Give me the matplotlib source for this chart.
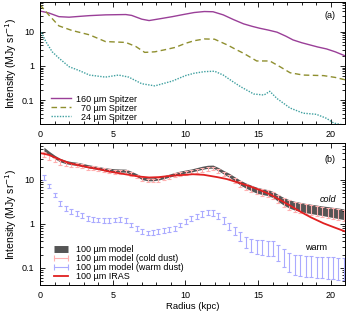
import numpy as np
import matplotlib
matplotlib.use("Agg")
import matplotlib.pyplot as plt
from matplotlib.lines import Line2D

plt.rcParams['font.family'] = ['Liberation Sans', 'DejaVu Sans']
plt.rcParams['font.size'] = 6.5

# panel (a): Spitzer profiles
r160 = [0, 0.6, 1.3, 2.0, 2.7, 3.4, 4.5, 5.9, 6.3, 7.0, 7.5, 8.3, 9.1, 9.8, 10.6, 11.3, 11.9,
        12.6, 13.3, 14.0, 14.6, 15.1, 15.7, 16.3, 16.9, 17.4, 18.0, 18.6, 19.1, 19.7, 20.3, 21.0]
i160 = [41, 36, 28, 27, 28.5, 30, 31.6, 32.3, 30.5, 23.6, 21.5, 24.5, 28, 32, 37, 39.6, 39,
        31.6, 23, 17.2, 14.5, 12.8, 11.3, 9.8, 7.5, 5.8, 4.8, 4.1, 3.6, 3.16, 2.6, 1.96]

r70 = [0, 0.3, 0.6, 1.3, 2.2, 3.4, 4.5, 5.9, 6.6, 7.2, 7.9, 8.6, 9.3, 10.0, 10.6, 11.3, 12.0,
       12.9, 13.5, 14.0, 14.9, 15.8, 16.5, 17.2, 18.1, 19.5, 20.3, 21.0]
i70 = [62, 45, 31.6, 15, 11, 8.2, 5.2, 4.9, 3.7, 2.5, 2.6, 3.0, 3.5, 4.6, 5.5, 6.2, 6.1,
       4.1, 3.0, 2.35, 1.4, 1.4, 0.95, 0.63, 0.54, 0.52, 0.46, 0.39]

r24 = [0, 0.4, 0.84, 1.3, 2.0, 2.7, 3.4, 4.5, 5.4, 6.1, 7.0, 7.9, 9.1, 10.0, 10.6, 11.3, 12.0,
       12.6, 13.2, 13.8, 14.7, 15.4, 15.8, 16.3, 17.2, 18.1, 19.0, 19.7, 20.2, 21.0]
i24 = [11.5, 5.2, 2.6, 1.7, 0.95, 0.73, 0.54, 0.47, 0.54, 0.47, 0.3, 0.26, 0.36, 0.52, 0.61,
       0.68, 0.7, 0.54, 0.36, 0.245, 0.15, 0.14, 0.18, 0.11, 0.058, 0.041, 0.038, 0.029, 0.021, 0.018]

# panel (b): 100 micron model and IRAS
r_bin = np.arange(0.27, 21.0, 0.375)
model = [50, 40, 33, 28, 25.5, 24, 23.2, 22, 20.5, 19.5, 18.5, 17.6, 16.9, 16.5, 16.3, 16.2,
         14.5, 12.8, 11, 10.3, 10.3, 10.8, 11.5, 12.5, 13.6, 14.6, 15.5, 16.3, 17.5, 18.8, 19.8, 20,
         17.5, 14.8, 12.7, 10.5, 8.7, 7.5, 6.6, 5.9, 5.5, 5.2, 4.7, 3.9, 3.3, 2.9, 2.65, 2.5,
         2.35, 2.25, 2.15, 2.05, 1.97, 1.88, 1.8, 1.72]
model_err = [5, 4, 3, 2.5, 2.2, 2, 1.9, 1.8, 1.7, 1.6, 1.5, 1.4, 1.4, 1.3, 1.3, 1.3,
             1.2, 1.0, 0.9, 0.8, 0.8, 0.9, 0.9, 1.0, 1.1, 1.2, 1.2, 1.3, 1.4, 1.5, 1.6, 1.6,
             1.5, 1.4, 1.3, 1.2, 1.1, 1.0, 0.95, 0.9, 0.85, 0.8, 0.75, 0.7, 0.65, 0.62, 0.6, 0.58,
             0.56, 0.54, 0.52, 0.5, 0.5, 0.49, 0.48, 0.47]
cold = [38.5, 32.7, 28.4, 25, 23.2, 22.1, 21.4, 20.5, 19.1, 18.2, 17.3, 16.4, 15.7, 15.3, 15.0, 15.0,
        13.5, 12.0, 10.3, 9.7, 9.7, 10.1, 10.8, 11.7, 12.8, 13.6, 14.4, 15.0, 16.0, 17.1, 18.0, 18.2,
        16.0, 13.6, 11.8, 9.8, 8.2, 7.1, 6.3, 5.6, 5.2, 4.9, 4.4, 3.66, 3.1, 2.75, 2.5, 2.37,
        2.22, 2.13, 2.03, 1.93, 1.85, 1.77, 1.69, 1.61]
cold_err = [5, 4.2, 3.4, 3.0, 2.6, 2.4, 2.2, 2.1, 2.0, 1.9, 1.8, 1.7, 1.6, 1.6, 1.5, 1.5,
            1.4, 1.2, 1.0, 1.0, 1.0, 1.0, 1.1, 1.2, 1.3, 1.4, 1.4, 1.5, 1.6, 1.7, 1.8, 1.8,
            1.7, 1.5, 1.4, 1.3, 1.2, 1.1, 1.0, 0.95, 0.9, 0.85, 0.8, 0.75, 0.7, 0.65, 0.62, 0.6,
            0.58, 0.56, 0.54, 0.52, 0.5, 0.49, 0.48, 0.47]
warm = [11.5, 7.3, 4.6, 2.95, 2.27, 1.9, 1.75, 1.54, 1.35, 1.28, 1.23, 1.19, 1.22, 1.23, 1.28, 1.2,
        0.95, 0.8, 0.68, 0.62, 0.64, 0.68, 0.71, 0.75, 0.8, 0.95, 1.12, 1.35, 1.5, 1.69, 1.8, 1.8,
        1.55, 1.2, 0.9, 0.7, 0.53, 0.4, 0.34, 0.32, 0.31, 0.3, 0.3, 0.24, 0.19, 0.15, 0.135, 0.13,
        0.125, 0.122, 0.12, 0.118, 0.116, 0.114, 0.112, 0.11]
warm_err = [1.4, 0.9, 0.55, 0.36, 0.27, 0.23, 0.21, 0.19, 0.16, 0.15, 0.15, 0.14, 0.15, 0.15, 0.15, 0.14,
            0.11, 0.1, 0.08, 0.075, 0.077, 0.08, 0.085, 0.09, 0.1, 0.11, 0.14, 0.17, 0.2, 0.23, 0.25, 0.26,
            0.24, 0.2, 0.17, 0.15, 0.13, 0.11, 0.11, 0.11, 0.11, 0.11, 0.11, 0.1, 0.085, 0.07, 0.065, 0.063,
            0.062, 0.061, 0.06, 0.06, 0.06, 0.059, 0.058, 0.057]

r_iras = [0, 0.6, 1.3, 2.0, 2.7, 3.4, 4.05, 4.7, 5.4, 6.1, 6.8, 7.5, 8.15, 9.06, 10.0, 10.5,
          11.25, 12.2, 12.85, 13.76, 14.45, 15.1, 15.8, 16.5, 17.2, 17.9, 18.6, 19.5, 20.2, 21.0]
i_iras = [40.5, 37, 29.5, 24, 21.2, 19, 17.5, 15.5, 14.2, 13, 11.9, 11.3, 11.5, 12.4, 13, 13.4,
          13, 11.5, 10.4, 8.4, 7.1, 5.9, 4.7, 3.5, 2.6, 1.9, 1.42, 1.03, 0.84, 0.67]

c160, c70, c24 = '#9a3f98', '#8f8f2f', '#3fa0a0'
c_model, c_cold, c_warm, c_iras = '#555555', '#ffb0b0', '#aaaaff', '#e02020'

fig = plt.figure(figsize=(3.46, 3.14), dpi=100)
ax1 = fig.add_axes([0.1156, 0.605, 0.881, 0.389])
ax2 = fig.add_axes([0.1156, 0.0924, 0.881, 0.4526])

ax1.plot(r160, i160, color=c160, lw=1.0, label='160 µm Spitzer')
ax1.plot(r70, i70, color=c70, lw=1.0, ls=(0, (4, 2.5)), label='\u200770 µm Spitzer')
ax1.plot(r24, i24, color=c24, lw=1.0, ls=(0, (1, 1)), label='\u200724 µm Spitzer')
ax1.set_ylim(0.0197, 76)
ax1.legend(loc='lower left', bbox_to_anchor=(0.036, 0.02), frameon=False, handlelength=2.2,
           handletextpad=0.6, labelspacing=0.0, borderaxespad=0, borderpad=0, fontsize=6.5)
ax1.text(0.951, 0.885, '(a)', transform=ax1.transAxes, ha='center', va='center')

model = np.array(model)
model_err = np.array(model_err)
ax2.fill_between(r_bin, model - model_err, model + model_err, color=c_model, lw=0)
ax2.errorbar(r_bin, cold, yerr=cold_err, fmt='none', ecolor=c_cold, elinewidth=0.8,
             capsize=1.4, capthick=0.8)
ax2.errorbar(r_bin, warm, yerr=warm_err, fmt='none', ecolor=c_warm, elinewidth=0.8,
             capsize=1.4, capthick=0.8)
ax2.plot(r_iras, i_iras, color=c_iras, lw=1.3)
ax2.set_ylim(0.041, 69)
ax2.text(19.8, 3.6, 'cold', style='italic', ha='center', va='center')
ax2.text(19.0, 0.295, 'warm', ha='center', va='center')
ax2.text(0.951, 0.88, '(b)', transform=ax2.transAxes, ha='center', va='center')

handles = [
    Line2D([0], [0], color=c_model, lw=5, solid_capstyle='butt'),
    Line2D([0], [0], color=c_cold, lw=0.8, marker='|', markersize=4, markeredgewidth=0.8),
    Line2D([0], [0], color=c_warm, lw=0.8, marker='|', markersize=4, markeredgewidth=0.8),
    Line2D([0], [0], color=c_iras, lw=1.3),
]
labels = ['100 µm model', '100 µm model (cold dust)', '100 µm model (warm dust)', '100 µm IRAS']
ax2.legend(handles, labels, loc='lower left', bbox_to_anchor=(0.036, 0.025), frameon=False,
           numpoints=2, handlelength=2.2, handletextpad=0.6, labelspacing=0.0,
           borderaxespad=0, borderpad=0, fontsize=6.5)
ax2.set_xlabel('Radius (kpc)', labelpad=2, fontsize=6.8)

for ax in (ax1, ax2):
    ax.set_yscale('log')
    ax.set_xlim(0, 20.96)
    ax.set_xticks([0, 5, 10, 15, 20])
    ax.set_xticks(np.arange(0, 21, 1), minor=True)
    ax.set_yticks([0.1, 1, 10])
    ax.set_yticklabels(['0.1', '1', '10'])
    ax.tick_params(which='both', direction='in', top=True, right=True, width=0.6)
    ax.tick_params(which='major', length=3.5, pad=4)
    ax.tick_params(which='minor', length=2)
    ax.set_ylabel('Intensity (MJy sr$^{-1}$)', fontsize=7.5)
    ax.yaxis.set_label_coords(-0.07, 0.5)
    for s in ax.spines.values():
        s.set_linewidth(0.7)

fig.savefig('out.png', dpi=100)
